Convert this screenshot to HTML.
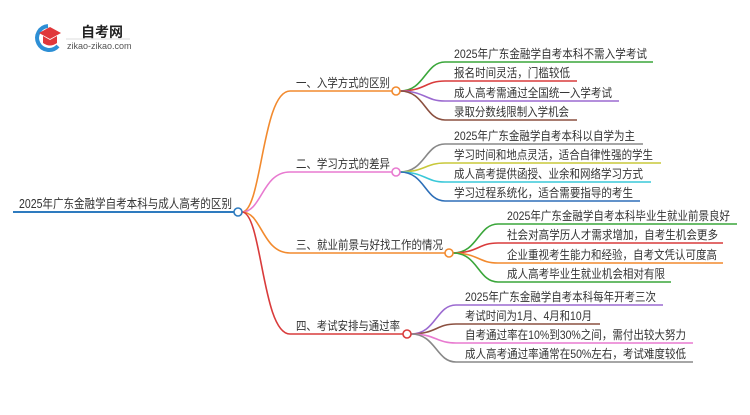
<!DOCTYPE html>
<html><head><meta charset="utf-8"><style>
body{margin:0;background:#fff;width:750px;height:410px;overflow:hidden}
text{font-family:"Liberation Sans","Noto Sans CJK SC",sans-serif;fill:#333}
</style></head><body>
<svg width="750" height="410" viewBox="0 0 750 410" xmlns="http://www.w3.org/2000/svg">
<!-- logo -->
<path d="M48 26 A12 12 0 1 0 58 46" fill="none" stroke="#2d8fd5" stroke-width="4"/>
<polygon points="39,33 50,27 61,33 50,39" fill="#e0373a"/>
<path d="M43 36 L43 43 Q50 48 57 43 L57 36 L50 40 Z" fill="#e0373a"/>
<text x="81" y="37" font-size="14" font-weight="bold" style="fill:#222">自考网</text>
<line x1="66" y1="39" x2="130" y2="39" stroke="#ddd"/>
<text x="67" y="49" font-size="9" style="fill:#555">zikao-zikao.com</text>

<g fill="none" stroke-width="1.6">
<line x1="13" y1="212" x2="234" y2="212" stroke="#2e7bbf" stroke-width="2"/>
<path d="M242 212 C262 212,262 91,290 91 L392 91" stroke="#f28a2e"/>
<path d="M242 212 C262 212,262 172,290 172 L392 172" stroke="#e87ad0"/>
<path d="M242 212 C262 212,262 253,290 253 L445 253" stroke="#f28a2e"/>
<path d="M242 212 C262 212,262 334,290 334 L403 334" stroke="#d93b3b"/>
<path d="M400 91 C425 91,425 62,445 62 L653 62" stroke="#3aa63a"/>
<path d="M400 91 C425 91,425 81,445 81 L577 81" stroke="#d93b3b"/>
<path d="M400 91 C425 91,425 101,445 101 L619 101" stroke="#9b6ad0"/>
<path d="M400 91 C425 91,425 120,445 120 L577 120" stroke="#8b5040"/>
<path d="M400 172 C425 172,425 144,445 144 L643 144" stroke="#888"/>
<path d="M400 172 C425 172,425 163,445 163 L661 163" stroke="#c8c83a"/>
<path d="M400 172 C425 172,425 182,445 182 L651 182" stroke="#3ac8d8"/>
<path d="M400 172 C425 172,425 201,445 201 L640 201" stroke="#2e6fb8"/>
<path d="M453 253 C478 253,478 224,498 224 L737 224" stroke="#3aa63a"/>
<path d="M453 253 C478 253,478 243,498 243 L723 243" stroke="#d93b3b"/>
<path d="M453 253 C478 253,478 263,498 263 L723 263" stroke="#f28a2e"/>
<path d="M453 253 C478 253,478 282,498 282 L671 282" stroke="#3aa63a"/>
<path d="M411 334 C436 334,436 305,456 305 L663 305" stroke="#9b6ad0"/>
<path d="M411 334 C436 334,436 324,456 324 L600 324" stroke="#8b5040"/>
<path d="M411 334 C436 334,436 343,456 343 L693 343" stroke="#e87ad0"/>
<path d="M411 334 C436 334,436 362,456 362 L693 362" stroke="#888"/>
</g>
<g fill="#fff" stroke-width="1.6">
<circle cx="238" cy="212" r="4" stroke="#2e7bbf"/>
<circle cx="396" cy="91" r="4" stroke="#f28a2e"/>
<circle cx="396" cy="172" r="4" stroke="#e87ad0"/>
<circle cx="449" cy="253" r="4" stroke="#f28a2e"/>
<circle cx="407" cy="334" r="4" stroke="#d93b3b"/>
</g>
<text x="19" y="208" font-size="12.5" textLength="213" lengthAdjust="spacingAndGlyphs">2025年广东金融学自考本科与成人高考的区别</text>
<g font-size="12">
<text x="296" y="87" textLength="94" lengthAdjust="spacingAndGlyphs">一、入学方式的区别</text>
<text x="296" y="168" textLength="94" lengthAdjust="spacingAndGlyphs">二、学习方式的差异</text>
<text x="296" y="249" textLength="147" lengthAdjust="spacingAndGlyphs">三、就业前景与好找工作的情况</text>
<text x="296" y="330" textLength="104" lengthAdjust="spacingAndGlyphs">四、考试安排与通过率</text>
</g>
<g font-size="12" lengthAdjust="spacingAndGlyphs">
<text x="454" y="58" textLength="193" lengthAdjust="spacingAndGlyphs">2025年广东金融学自考本科不需入学考试</text>
<text x="454" y="77" textLength="116" lengthAdjust="spacingAndGlyphs">报名时间灵活，门槛较低</text>
<text x="454" y="97" textLength="158" lengthAdjust="spacingAndGlyphs">成人高考需通过全国统一入学考试</text>
<text x="454" y="116" textLength="115" lengthAdjust="spacingAndGlyphs">录取分数线限制入学机会</text>
<text x="454" y="140" textLength="181" lengthAdjust="spacingAndGlyphs">2025年广东金融学自考本科以自学为主</text>
<text x="454" y="159" textLength="199" lengthAdjust="spacingAndGlyphs">学习时间和地点灵活，适合自律性强的学生</text>
<text x="454" y="178" textLength="189" lengthAdjust="spacingAndGlyphs">成人高考提供函授、业余和网络学习方式</text>
<text x="454" y="197" textLength="179" lengthAdjust="spacingAndGlyphs">学习过程系统化，适合需要指导的考生</text>
<text x="507" y="220" textLength="223" lengthAdjust="spacingAndGlyphs">2025年广东金融学自考本科毕业生就业前景良好</text>
<text x="507" y="239" textLength="211" lengthAdjust="spacingAndGlyphs">社会对高学历人才需求增加，自考生机会更多</text>
<text x="507" y="259" textLength="210" lengthAdjust="spacingAndGlyphs">企业重视考生能力和经验，自考文凭认可度高</text>
<text x="507" y="278" textLength="158" lengthAdjust="spacingAndGlyphs">成人高考毕业生就业机会相对有限</text>
<text x="465" y="301" textLength="191" lengthAdjust="spacingAndGlyphs">2025年广东金融学自考本科每年开考三次</text>
<text x="465" y="320" textLength="127" lengthAdjust="spacingAndGlyphs">考试时间为1月、4月和10月</text>
<text x="465" y="339" textLength="221" lengthAdjust="spacingAndGlyphs">自考通过率在10%到30%之间，需付出较大努力</text>
<text x="465" y="358" textLength="221" lengthAdjust="spacingAndGlyphs">成人高考通过率通常在50%左右，考试难度较低</text>
</g>
</svg>
</body></html>
